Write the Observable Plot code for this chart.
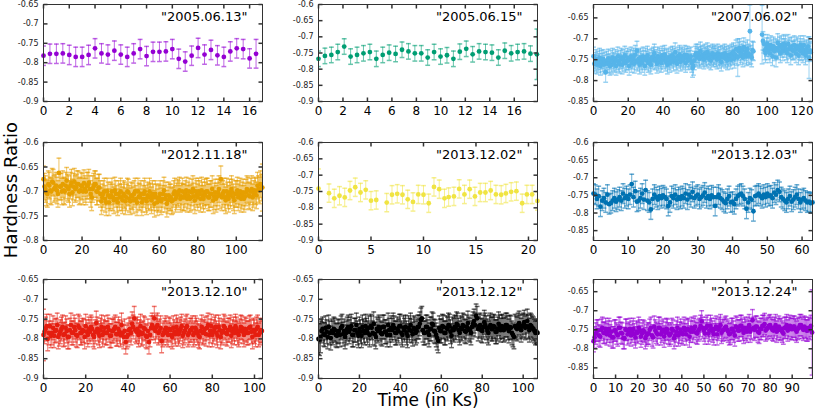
<!DOCTYPE html>
<html><head><meta charset="utf-8">
<script src="https://cdn.jsdelivr.net/npm/d3@7"></script>
<script src="https://cdn.jsdelivr.net/npm/@observablehq/plot@0.6"></script>
<style>
body{margin:0;background:#fff;}
#chart{position:relative;width:817px;height:409px;font-family:"DejaVu Sans",sans-serif;overflow:hidden;background:#fff;}
.lab{position:absolute;color:#000;white-space:nowrap;line-height:0.8;}
</style></head><body><div id="chart"></div>
<script>
// ---------- DATA ----------
const obsDates = ["2005.06.13","2005.06.15","2007.06.02","2012.11.18","2013.12.02","2013.12.03","2013.12.10","2013.12.12","2013.12.24"];

// 2005.06.13
const hr_20050613 = [-.782,-.777,-.777,-.776,-.780,-.785,-.785,-.780,-.763,-.776,-.779,-.769,-.779,-.785,-.776,-.765,-.783,-.772,-.772,-.771,-.765,-.790,-.797,-.782,-.762,-.779,-.767,-.781,-.785,-.771,-.763,-.765,-.789,-.777];
const bin_20050613 = 0.5;
const err_20050613 = 0.025;
const errOut_20050613 = {33: 0.037};
const xRange_20050613 = [0, 17];
const yRange_20050613 = [-0.9, -0.65];
const xTicks_20050613 = [0,2,4,6,8,10,12,14,16];
const yTicks_20050613 = [-0.9,-0.85,-0.8,-0.75,-0.7,-0.65];

// 2005.06.15
const hr_20050615 = [-.768,-.759,-.756,-.747,-.730,-.761,-.756,-.751,-.747,-.768,-.756,-.749,-.753,-.740,-.745,-.751,-.751,-.764,-.747,-.761,-.757,-.768,-.746,-.737,-.754,-.745,-.747,-.749,-.764,-.743,-.751,-.747,-.745,-.752,-.754];
const bin_20050615 = 0.525;
const err_20050615 = 0.024;
const errOut_20050615 = {34: 0.078};
const xRange_20050615 = [0, 17.9];
const yRange_20050615 = [-0.9, -0.6];
const xTicks_20050615 = [0,2,4,6,8,10,12,14,16];
const yTicks_20050615 = [-0.9,-0.85,-0.8,-0.75,-0.7,-0.65,-0.6];

// 2007.06.02 (null = no data)
const hr_20070602 = [
-.742,-.760,-.755,-.748,-.762,-.752,-.758,-.745,-.765,-.750,
-.757,-.748,-.762,-.755,-.780,-.752,-.760,-.747,-.758,-.765,
-.750,-.762,-.745,-.755,-.758,-.748,-.765,-.752,-.742,-.757,
-.760,-.750,-.745,-.762,-.748,-.755,-.740,-.758,-.752,-.745,
-.752,-.765,-.748,-.742,-.758,-.750,-.745,-.760,-.738,-.752,
-.728,-.755,-.748,-.762,-.745,-.752,-.758,-.742,-.750,-.765,
-.745,-.752,-.740,-.758,-.748,-.755,-.762,-.745,-.750,-.742,
-.735,-.752,-.748,-.760,-.742,-.755,-.745,-.750,-.758,-.740,
-.750,-.745,-.738,-.755,-.748,-.762,-.745,-.752,-.758,-.742,
-.748,-.740,-.755,-.745,-.732,-.752,-.760,-.742,-.748,-.738,
-.755,-.745,-.742,-.752,-.748,-.738,-.758,-.745,-.740,-.752,
-.745,-.750,-.742,-.758,-.770,-.765,-.752,-.740,-.735,-.745,
-.735,-.742,-.748,-.730,-.740,-.745,-.738,-.750,-.735,-.742,
-.745,-.732,-.740,-.748,-.738,-.752,-.742,-.735,-.745,-.740,
-.738,-.745,-.750,-.735,-.742,-.748,-.740,-.755,-.738,-.745,
-.742,-.735,-.748,-.740,-.752,-.745,-.738,-.742,-.750,-.735,
-.740,-.732,-.748,-.738,-.725,-.742,-.745,-.730,-.722,-.740,
-.735,-.728,-.745,-.720,-.738,-.730,-.742,-.725,-.735,-.740,
-.682,-.738,-.745,-.728,-.730,null,null,null,null,null,
null,null,null,null,-.690,-.705,-.712,-.728,-.735,-.720,
-.712,-.728,-.720,-.735,-.715,-.725,-.742,-.718,-.730,-.722,
-.745,-.725,-.710,-.728,-.718,-.735,-.715,-.722,-.730,-.712,
-.722,-.715,-.728,-.735,-.712,-.725,-.720,-.740,-.718,-.728,
-.728,-.715,-.725,-.735,-.718,-.722,-.740,-.728,-.715,-.730,
-.722,-.735,-.715,-.728,-.740,-.725,-.732,-.718,-.745,-.728,
-.732];
const bin_20070602 = 0.5;
const err_20070602 = 0.022;
const errOut_20070602 = {14: 0.024, 166: 0.045, 180: 0.063, 194: 0.07, 248: 0.05};
const xRange_20070602 = [0, 126];
const yRange_20070602 = [-0.85, -0.618];
const xTicks_20070602 = [0,20,40,60,80,100,120];
const yTicks_20070602 = [-0.85,-0.8,-0.75,-0.7,-0.65];

// 2012.11.18
const hr_20121118 = [
-.675,-.690,-.695,-.702,-.705,-.685,-.688,-.698,-.700,-.680,
-.682,-.695,-.692,-.688,-.698,-.705,-.662,-.690,-.690,-.700,
-.685,-.698,-.700,-.688,-.678,-.692,-.695,-.705,-.688,-.682,
-.702,-.690,-.680,-.695,-.692,-.685,-.685,-.700,-.698,-.688,
-.690,-.700,-.683,-.695,-.700,-.688,-.688,-.682,-.695,-.705,
-.712,-.695,-.690,-.685,-.685,-.700,-.700,-.692,-.692,-.705,
-.720,-.712,-.705,-.700,-.715,-.722,-.700,-.708,-.722,-.712,
-.708,-.700,-.712,-.718,-.698,-.705,-.715,-.722,-.705,-.712,
-.700,-.712,-.718,-.705,-.708,-.720,-.712,-.700,-.702,-.715,
-.720,-.708,-.710,-.718,-.705,-.700,-.715,-.722,-.700,-.710,
-.712,-.705,-.722,-.715,-.705,-.700,-.715,-.720,-.708,-.712,
-.700,-.710,-.718,-.705,-.712,-.725,-.705,-.712,-.722,-.715,
-.712,-.705,-.720,-.715,-.705,-.698,-.715,-.708,-.725,-.718,
-.708,-.712,-.712,-.720,-.718,-.705,-.700,-.715,-.710,-.702,
-.705,-.698,-.715,-.710,-.700,-.712,-.712,-.705,-.698,-.715,
-.708,-.700,-.715,-.712,-.702,-.695,-.710,-.718,-.700,-.705,
-.712,-.700,-.705,-.715,-.698,-.708,-.715,-.702,-.708,-.700,
-.700,-.712,-.712,-.705,-.705,-.695,-.718,-.710,-.702,-.715,
-.710,-.702,-.695,-.708,-.675,-.712,-.705,-.700,-.712,-.718,
-.700,-.708,-.715,-.702,-.708,-.695,-.702,-.712,-.718,-.705,
-.705,-.698,-.712,-.705,-.700,-.715,-.708,-.702,-.715,-.710,
-.702,-.695,-.698,-.708,-.710,-.700,-.695,-.712,-.705,-.698,
-.700,-.708,-.688,-.695,-.698,-.685,-.692,-.692];
const bin_20121118 = 0.5;
const err_20121118 = 0.027;
const errOut_20121118 = {16: 0.03, 227: 0.048};
const xRange_20121118 = [0, 113.6];
const yRange_20121118 = [-0.8, -0.6];
const xTicks_20121118 = [0,20,40,60,80,100];
const yTicks_20121118 = [-0.8,-0.75,-0.7,-0.65,-0.6];

// 2013.12.02 (explicit times)
const t_20131202 = [0,1,1.5,2,2.5,3,3.5,4,4.5,5,5.5,6.5,7,7.5,8,8.5,9,9.5,10,10.5,11,11.5,12,12.4,12.9,13.4,13.9,14.4,14.9,15.4,15.9,16.4,16.9,17.4,17.85,18.35,18.85,19.4,19.85,20.35,20.85];
const hr_20131202 = [-.741,-.755,-.771,-.763,-.768,-.747,-.737,-.753,-.745,-.778,-.776,-.784,-.760,-.757,-.760,-.774,-.782,-.759,-.760,-.786,-.736,-.743,-.771,-.767,-.765,-.742,-.759,-.743,-.765,-.753,-.753,-.747,-.759,-.760,-.756,-.751,-.749,-.786,-.759,-.759,-.779];
const err_20131202 = 0.028;
const errOut_20131202 = {0: 0.06};
const xRange_20131202 = [0, 20.86];
const yRange_20131202 = [-0.9, -0.6];
const xTicks_20131202 = [0,5,10,15,20];
const yTicks_20131202 = [-0.9,-0.85,-0.8,-0.75,-0.7,-0.65,-0.6];

// 2013.12.03
const hr_20131203 = [
-.745,-.748,-.760,-.752,-.782,-.765,-.758,-.770,-.748,-.775,
-.772,-.765,-.758,-.768,-.762,-.755,-.765,-.745,-.758,-.752,
-.760,-.748,-.718,-.755,-.738,-.768,-.765,-.758,-.745,-.762,
-.735,-.765,-.770,-.790,-.760,-.748,-.755,-.762,-.752,-.758,
-.750,-.755,-.760,-.780,-.770,-.752,-.758,-.748,-.762,-.755,
-.760,-.752,-.758,-.745,-.762,-.748,-.755,-.740,-.758,-.752,
-.748,-.760,-.755,-.750,-.742,-.758,-.752,-.760,-.750,-.755,
-.780,-.755,-.748,-.758,-.762,-.768,-.772,-.760,-.752,-.770,
-.768,-.775,-.760,-.752,-.748,-.745,-.752,-.760,-.788,-.770,
-.758,-.762,-.795,-.752,-.750,-.745,-.752,-.758,-.748,-.755,
-.745,-.752,-.750,-.758,-.742,-.748,-.735,-.740,-.755,-.760,
-.765,-.770,-.760,-.752,-.768,-.762,-.755,-.748,-.760,-.770,
-.762,-.758,-.765,-.770,-.768,-.772,-.770];
const bin_20131203 = 0.5;
const err_20131203 = 0.028;
const errOut_20131203 = {};
const xRange_20131203 = [0, 63];
const yRange_20131203 = [-0.878, -0.6];
const xTicks_20131203 = [0,10,20,30,40,50,60];
const yTicks_20131203 = [-0.85,-0.8,-0.75,-0.7,-0.65,-0.6];

// 2013.12.10
const hr_20131210 = [
-.790,-.782,-.775,-.768,-.800,-.785,-.768,-.792,-.785,-.772,
-.792,-.780,-.778,-.765,-.795,-.788,-.782,-.775,-.770,-.790,
-.788,-.772,-.780,-.795,-.795,-.778,-.765,-.785,-.785,-.770,
-.778,-.790,-.792,-.768,-.772,-.785,-.785,-.778,-.780,-.795,
-.768,-.782,-.790,-.775,-.782,-.770,-.775,-.790,-.795,-.782,
-.760,-.775,-.785,-.792,-.778,-.770,-.790,-.782,-.772,-.785,
-.785,-.770,-.778,-.792,-.792,-.780,-.780,-.775,-.770,-.788,
-.788,-.775,-.782,-.790,-.765,-.785,-.795,-.780,-.808,-.795,
-.790,-.778,-.775,-.785,-.762,-.770,-.748,-.778,-.782,-.775,
-.790,-.782,-.768,-.788,-.785,-.772,-.775,-.792,-.795,-.780,
-.808,-.790,-.772,-.765,-.772,-.748,-.780,-.770,-.765,-.785,
-.780,-.772,-.805,-.790,-.785,-.778,-.772,-.785,-.790,-.775,
-.778,-.790,-.795,-.772,-.782,-.788,-.770,-.778,-.788,-.782,
-.775,-.768,-.792,-.785,-.780,-.772,-.768,-.790,-.785,-.778,
-.778,-.772,-.790,-.785,-.772,-.778,-.785,-.792,-.795,-.780,
-.770,-.785,-.782,-.775,-.788,-.772,-.765,-.790,-.780,-.768,
-.790,-.782,-.775,-.770,-.785,-.792,-.770,-.778,-.795,-.785,
-.780,-.768,-.772,-.785,-.788,-.778,-.778,-.770,-.792,-.782,
-.775,-.785,-.768,-.775,-.785,-.790,-.780,-.770,-.772,-.782,
-.790,-.775,-.778,-.785,-.785,-.772,-.770,-.782,-.795,-.778,
-.782,-.790,-.775,-.770,-.790,-.785,-.778,-.780];
const bin_20131210 = 0.5;
const err_20131210 = 0.03;
const errOut_20131210 = {0: 0.065};
const xRange_20131210 = [0, 103.8];
const yRange_20131210 = [-0.9, -0.65];
const xTicks_20131210 = [0,20,40,60,80,100];
const yTicks_20131210 = [-0.9,-0.85,-0.8,-0.75,-0.7,-0.65];

// 2013.12.12
const hr_20131212 = [
-.800,-.802,-.795,-.780,-.775,-.788,-.790,-.772,-.782,-.795,
-.770,-.785,-.798,-.780,-.785,-.775,-.778,-.790,-.792,-.782,
-.780,-.790,-.772,-.768,-.788,-.780,-.795,-.785,-.775,-.770,
-.782,-.775,-.768,-.790,-.790,-.778,-.778,-.765,-.785,-.792,
-.775,-.782,-.792,-.770,-.780,-.785,-.768,-.778,-.785,-.772,
-.790,-.768,-.772,-.785,-.762,-.788,-.795,-.775,-.780,-.770,
-.775,-.785,-.788,-.770,-.770,-.782,-.782,-.790,-.765,-.778,
-.790,-.772,-.778,-.765,-.772,-.785,-.785,-.775,-.780,-.768,
-.768,-.785,-.790,-.772,-.778,-.770,-.785,-.792,-.772,-.778,
-.765,-.780,-.788,-.772,-.775,-.785,-.780,-.770,-.770,-.762,
-.752,-.748,-.778,-.785,-.785,-.770,-.770,-.782,-.790,-.775,
-.775,-.762,-.765,-.780,-.782,-.790,-.798,-.805,-.772,-.780,
-.780,-.768,-.770,-.785,-.785,-.772,-.775,-.765,-.768,-.782,
-.792,-.775,-.778,-.770,-.772,-.762,-.765,-.778,-.785,-.772,
-.775,-.765,-.768,-.780,-.782,-.770,-.760,-.775,-.778,-.785,
-.770,-.762,-.755,-.765,-.742,-.748,-.775,-.768,-.765,-.778,
-.780,-.770,-.758,-.765,-.772,-.780,-.785,-.770,-.765,-.775,
-.775,-.768,-.770,-.782,-.782,-.775,-.762,-.770,-.778,-.768,
-.770,-.778,-.775,-.765,-.765,-.772,-.780,-.770,-.772,-.785,
-.790,-.795,-.768,-.772,-.775,-.765,-.760,-.770,-.778,-.768,
-.765,-.758,-.772,-.768,-.755,-.770,-.778,-.765,-.768,-.772,
-.775,-.780,-.785,-.782,-.785];
const bin_20131212 = 0.5;
const err_20131212 = 0.03;
const errOut_20131212 = {0: 0.04, 1: 0.04, 2: 0.04};
const xRange_20131212 = [0, 107];
const yRange_20131212 = [-0.9, -0.65];
const xTicks_20131212 = [0,20,40,60,80,100];
const yTicks_20131212 = [-0.9,-0.85,-0.8,-0.75,-0.7,-0.65];

// 2013.12.24
const hr_20131224 = [
-.780,-.770,-.760,-.752,-.752,-.765,-.768,-.750,-.745,-.758,
-.758,-.748,-.762,-.755,-.748,-.765,-.755,-.770,-.770,-.752,
-.752,-.760,-.765,-.745,-.745,-.758,-.760,-.772,-.772,-.750,
-.750,-.762,-.758,-.748,-.765,-.755,-.748,-.762,-.770,-.755,
-.758,-.745,-.752,-.768,-.760,-.752,-.755,-.772,-.765,-.760,
-.760,-.750,-.745,-.765,-.770,-.742,-.752,-.758,-.762,-.745,
-.745,-.762,-.755,-.750,-.768,-.758,-.748,-.750,-.760,-.765,
-.760,-.748,-.752,-.772,-.765,-.755,-.745,-.765,-.758,-.750,
-.758,-.762,-.745,-.752,-.762,-.748,-.750,-.768,-.755,-.745,
-.755,-.748,-.742,-.758,-.760,-.752,-.748,-.740,-.728,-.745,
-.752,-.760,-.745,-.740,-.760,-.752,-.740,-.748,-.755,-.762,
-.748,-.742,-.762,-.750,-.745,-.738,-.758,-.752,-.750,-.745,
-.742,-.750,-.755,-.762,-.760,-.748,-.748,-.755,-.765,-.742,
-.745,-.752,-.752,-.740,-.740,-.750,-.758,-.745,-.750,-.755,
-.745,-.738,-.755,-.748,-.725,-.745,-.750,-.742,-.742,-.755,
-.758,-.748,-.748,-.740,-.740,-.735,-.752,-.748,-.745,-.740,
-.738,-.745,-.750,-.752,-.745,-.738,-.755,-.748,-.742,-.750,
-.748,-.755,-.760,-.745,-.745,-.738,-.752,-.745,-.740,-.748,
-.748,-.742,-.742,-.750,-.755,-.748,-.745,-.738,-.738,-.745,
-.750,-.742,-.745,-.752,-.752,-.745,-.748,-.740,-.757];
const bin_20131224 = 0.5;
const err_20131224 = 0.028;
const errOut_20131224 = {198: 0.112};
const xRange_20131224 = [0, 99.2];
const yRange_20131224 = [-0.878, -0.618];
const xTicks_20131224 = [0,10,20,30,40,50,60,70,80,90];
const yTicks_20131224 = [-0.85,-0.8,-0.75,-0.7,-0.65];

// ---------- BUILD ----------
function binTimes(n, bin) { return Array.from({length: n}, (_, i) => i * bin); }
function rows(values, times, err, over) {
  const out = [];
  values.forEach((v, i) => {
    if (v == null) return;
    const e = over[i] ?? err;
    out.push({t: times[i], hr: v, lo: v - e, hi: v + e});
  });
  return out;
}

const panels = [
  {date: obsDates[0], data: rows(hr_20050613, binTimes(hr_20050613.length, bin_20050613), err_20050613, errOut_20050613), xd: xRange_20050613, yd: yRange_20050613, xt: xTicks_20050613, yt: yTicks_20050613},
  {date: obsDates[1], data: rows(hr_20050615, binTimes(hr_20050615.length, bin_20050615), err_20050615, errOut_20050615), xd: xRange_20050615, yd: yRange_20050615, xt: xTicks_20050615, yt: yTicks_20050615},
  {date: obsDates[2], data: rows(hr_20070602, binTimes(hr_20070602.length, bin_20070602), err_20070602, errOut_20070602), xd: xRange_20070602, yd: yRange_20070602, xt: xTicks_20070602, yt: yTicks_20070602},
  {date: obsDates[3], data: rows(hr_20121118, binTimes(hr_20121118.length, bin_20121118), err_20121118, errOut_20121118), xd: xRange_20121118, yd: yRange_20121118, xt: xTicks_20121118, yt: yTicks_20121118},
  {date: obsDates[4], data: rows(hr_20131202, t_20131202, err_20131202, errOut_20131202), xd: xRange_20131202, yd: yRange_20131202, xt: xTicks_20131202, yt: yTicks_20131202},
  {date: obsDates[5], data: rows(hr_20131203, binTimes(hr_20131203.length, bin_20131203), err_20131203, errOut_20131203), xd: xRange_20131203, yd: yRange_20131203, xt: xTicks_20131203, yt: yTicks_20131203},
  {date: obsDates[6], data: rows(hr_20131210, binTimes(hr_20131210.length, bin_20131210), err_20131210, errOut_20131210), xd: xRange_20131210, yd: yRange_20131210, xt: xTicks_20131210, yt: yTicks_20131210},
  {date: obsDates[7], data: rows(hr_20131212, binTimes(hr_20131212.length, bin_20131212), err_20131212, errOut_20131212), xd: xRange_20131212, yd: yRange_20131212, xt: xTicks_20131212, yt: yTicks_20131212},
  {date: obsDates[8], data: rows(hr_20131224, binTimes(hr_20131224.length, bin_20131224), err_20131224, errOut_20131224), xd: xRange_20131224, yd: yRange_20131224, xt: xTicks_20131224, yt: yTicks_20131224}
];

// ---------- STYLE / LAYOUT ----------
const palette = ["#9400d3","#009e73","#56b4e9","#e69f00","#f0e442","#0072b2","#e51e10","#000000","#9400d3"];
const colLeft = [0, 270, 545], colML = [43, 48, 48], colMR = [8, 8, 5];
const rowTop = [0, 121, 260], rowMT = [4, 21, 19], rowFH = [97, 98, 99], rowMB = [20, 20, 16];
const FW = 219;

const capSym = {draw(c) { c.moveTo(-2.4, 0); c.lineTo(2.4, 0); }};
const tickL = {draw(c) { c.moveTo(0, 0); c.lineTo(4, 0); }};
const tickR = {draw(c) { c.moveTo(0, 0); c.lineTo(-4, 0); }};
const tickB = {draw(c) { c.moveTo(0, 0); c.lineTo(0, -4); }};
const tickT = {draw(c) { c.moveTo(0, 0); c.lineTo(0, 4); }};
const fmt = d => String(+d.toFixed(3));

const root = document.getElementById("chart");
panels.forEach((p, k) => {
  const col = k % 3, row = Math.floor(k / 3);
  const color = palette[k];
  const svg = Plot.plot({
    width: colML[col] + FW + colMR[col],
    height: rowMT[row] + rowFH[row] + rowMB[row],
    marginLeft: colML[col], marginRight: colMR[col],
    marginTop: rowMT[row], marginBottom: rowMB[row],
    style: {fontFamily: "DejaVu Sans", background: "transparent", color: "#000", overflow: "visible"},
    x: {domain: p.xd},
    y: {domain: p.yd},
    marks: [
      Plot.ruleX(p.data, {x: "t", y1: "lo", y2: "hi", stroke: color, strokeOpacity: 0.6, strokeWidth: 1, clip: true}),
      Plot.dot(p.data, {x: "t", y: "lo", symbol: capSym, stroke: color, strokeOpacity: 0.6, fill: "none", clip: true}),
      Plot.dot(p.data, {x: "t", y: "hi", symbol: capSym, stroke: color, strokeOpacity: 0.6, fill: "none", clip: true}),
      Plot.dot(p.data, {x: "t", y: "hr", r: 2.4, fill: color, stroke: "none"}),
      Plot.frame({stroke: "#333", strokeWidth: 1}),
      Plot.dot(p.yt, {y: d => d, frameAnchor: "left", symbol: tickL, stroke: "#333", fill: "none"}),
      Plot.dot(p.yt, {y: d => d, frameAnchor: "right", symbol: tickR, stroke: "#333", fill: "none"}),
      Plot.dot(p.xt, {x: d => d, frameAnchor: "bottom", symbol: tickB, stroke: "#333", fill: "none"}),
      Plot.dot(p.xt, {x: d => d, frameAnchor: "top", symbol: tickT, stroke: "#333", fill: "none"}),
      Plot.axisY(p.yt, {anchor: "left", tickSize: 0, tickPadding: 5, fontSize: 8, tickFormat: fmt, label: null, fill: "#222"}),
      Plot.axisX(p.xt, {anchor: "bottom", tickSize: 0, tickPadding: 5, fontSize: 12, tickFormat: fmt, label: null}),
      Plot.text([`"${p.date}"`], {text: d => d, frameAnchor: "top-right", textAnchor: "end", lineAnchor: "top", dx: -15, dy: 7, fontSize: 13, fill: "#000"})
    ]
  });
  svg.style.position = "absolute";
  svg.style.left = colLeft[col] + "px";
  svg.style.top = rowTop[row] + "px";
  root.appendChild(svg);
});

const yl = document.createElement("div");
yl.className = "lab";
yl.textContent = "Hardness Ratio";
Object.assign(yl.style, {left: "10.5px", top: "190px", fontSize: "18px", transform: "translate(-50%,-50%) rotate(-90deg)"});
root.appendChild(yl);

const xl = document.createElement("div");
xl.className = "lab";
xl.textContent = "Time (in Ks)";
Object.assign(xl.style, {left: "428px", top: "394px", fontSize: "17px", transform: "translateX(-50%)"});
root.appendChild(xl);
</script></body></html>
